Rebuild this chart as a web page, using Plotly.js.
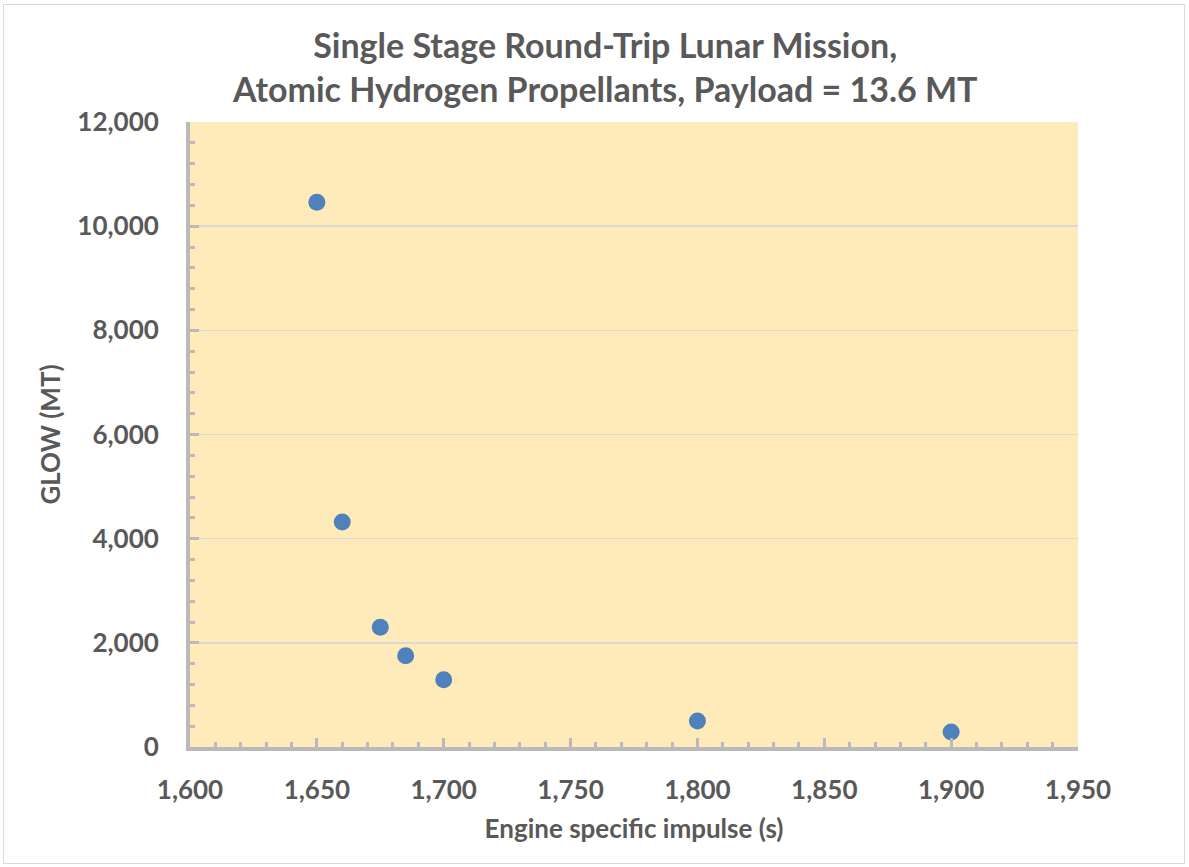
<!DOCTYPE html>
<html>
<head>
<meta charset="utf-8">
<script src="https://cdn.plot.ly/plotly-3.0.1.min.js"></script>
<style>
html,body{margin:0;padding:0;background:#fff;}
#wrap{position:absolute;left:3px;top:4px;width:1182px;height:860px;border:1px solid #D9D9D9;box-sizing:border-box;}
#chart{position:absolute;left:0;top:0;width:1189px;height:867px;}
</style>
</head>
<body>
<div id="wrap"></div>
<div id="chart"></div>
<script>
const titleLines = ["Single Stage Round-Trip Lunar Mission,", "Atomic Hydrogen Propellants, Payload = 13.6 MT"];
const xTitle = "Engine specific impulse (s)";
const yTitle = "GLOW (MT)";
const impulse = [1650, 1660, 1675, 1685, 1700, 1800, 1900];
const glow = [10460, 4320, 2300, 1750, 1290, 500, 290];

const fontFam = "Lato, 'Open Sans', sans-serif";
const textColor = "#595959";
const axisGray = "#BABABA";

const trace = {
  x: impulse, y: glow, type: "scatter", mode: "markers",
  marker: {color: "#4F81BD", size: 17},
  hoverinfo: "x+y"
};

const layout = {
  width: 1189, height: 867,
  paper_bgcolor: "rgba(0,0,0,0)",
  plot_bgcolor: "#FFEBB9",
  margin: {l: 190, r: 111, t: 122, b: 120},
  showlegend: false,
  font: {family: fontFam, color: textColor},
  title: {
    text: titleLines.join("<br>"),
    font: {family: fontFam, size: 34, color: textColor, weight: "bold"},
    x: 0.509, xanchor: "center", y: 0.933, yanchor: "middle"
  },
  xaxis: {
    range: [1600, 1950], dtick: 50, tick0: 1600,
    tickformat: ",d",
    showgrid: false, zeroline: false,
    showline: true, linecolor: axisGray, linewidth: 4,
    ticks: "inside", ticklen: 9, tickwidth: 3, tickcolor: axisGray,
    minor: {dtick: 10, ticks: "inside", ticklen: 5, tickwidth: 3, tickcolor: axisGray, showgrid: false},
    tickfont: {family: fontFam, size: 26, color: textColor, weight: "bold"},
    ticklabelstandoff: 17,
    title: {text: xTitle, font: {family: fontFam, size: 26, color: textColor, weight: "bold"}, standoff: 17}
  },
  yaxis: {
    range: [0, 12000], dtick: 2000, tick0: 0,
    tickformat: ",d",
    showgrid: true, gridcolor: "#D9D9D9", gridwidth: 1.5,
    zeroline: false,
    showline: true, linecolor: axisGray, linewidth: 4,
    ticks: "inside", ticklen: 9, tickwidth: 3, tickcolor: axisGray,
    minor: {dtick: 400, ticks: "inside", ticklen: 5, tickwidth: 3, tickcolor: axisGray, showgrid: false},
    tickfont: {family: fontFam, size: 26, color: textColor, weight: "bold"},
    ticklabelstandoff: 22,
    title: {text: yTitle, font: {family: fontFam, size: 26, color: textColor, weight: "bold"}, standoff: 10}
  }
};

Plotly.newPlot("chart", [trace], layout, {displayModeBar: false, staticPlot: true});
</script>
</body>
</html>
